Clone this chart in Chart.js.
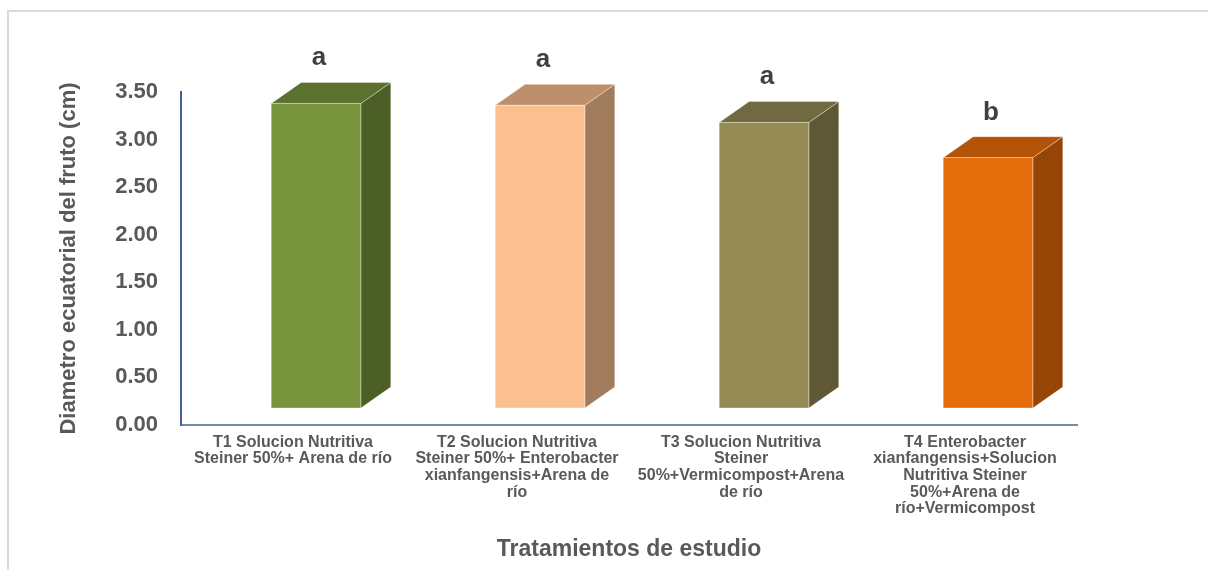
<!DOCTYPE html>
<html>
<head>
<meta charset="utf-8">
<script src="https://cdn.jsdelivr.net/npm/chart.js@4.4.1/dist/chart.umd.min.js"></script>
<style>
  html, body { margin: 0; padding: 0; background: #fff; }
  #wrap { position: relative; width: 1208px; height: 570px; }
  #frame { position: absolute; left: 7px; top: 10px; right: 0; bottom: 0;
           border-left: 2px solid #d9d9d9; border-top: 2px solid #d9d9d9; }
  canvas { position: absolute; left: 0; top: 0; }
</style>
</head>
<body>
<div id="wrap">
  <div id="frame"></div>
  <canvas id="diametro" width="1208" height="570"></canvas>
</div>
<script>
// Tratamientos (etiquetas del eje x)
const tratamientos = [
    ['T1 Solucion Nutritiva', 'Steiner 50%+ Arena de río'],
    ['T2 Solucion Nutritiva', 'Steiner 50%+ Enterobacter', 'xianfangensis+Arena de', 'río'],
    ['T3 Solucion Nutritiva', 'Steiner', '50%+Vermicompost+Arena', 'de río'],
    ['T4 Enterobacter', 'xianfangensis+Solucion', 'Nutritiva Steiner', '50%+Arena de', 'río+Vermicompost']
];
// Diametro ecuatorial (cm)
const diametro = [3.38, 3.36, 3.18, 2.81];
// Letras de significancia
const letras = ['a', 'a', 'a', 'b'];
const colorFrente = ['#77933C', '#FAC090', '#948A54', '#E46C0A'];
const colorArriba = ['#5B7130', '#BE8F6B', '#716940', '#B35308'];
const colorLado = ['#4B5F27', '#A07C5C', '#5F5836', '#964506'];

document.addEventListener("DOMContentLoaded", function () {
    const ctx = document.getElementById('diametro').getContext('2d');

    // fake 3D boxes drawn on top of the (transparent) chart.js bars
    const bar3d = {
        id: 'bar3d',
        afterDatasetsDraw(chart) {
            const c = chart.ctx;
            const meta = chart.getDatasetMeta(0);
            const dx = 30, dy = 21, shift = 23, floor = 17;
            meta.data.forEach((bar, i) => {
                const p = bar.getProps(['x', 'y', 'base', 'width'], true);
                const left = p.x - p.width / 2 + shift;
                const right = left + p.width;
                const top = p.y;
                const bottom = p.base - floor;
                c.save();
                c.strokeStyle = 'rgba(255,255,255,0.35)';
                c.lineWidth = 1;
                // side
                c.beginPath();
                c.moveTo(right, top);
                c.lineTo(right + dx, top - dy);
                c.lineTo(right + dx, bottom - dy);
                c.lineTo(right, bottom);
                c.closePath();
                c.fillStyle = colorLado[i];
                c.fill();
                c.stroke();
                // top
                c.beginPath();
                c.moveTo(left, top);
                c.lineTo(left + dx, top - dy);
                c.lineTo(right + dx, top - dy);
                c.lineTo(right, top);
                c.closePath();
                c.fillStyle = colorArriba[i];
                c.fill();
                c.stroke();
                // front
                c.fillStyle = colorFrente[i];
                c.fillRect(left, top, p.width, bottom - top);
                c.strokeRect(left, top, p.width, bottom - top);
                // letter
                c.fillStyle = '#404040';
                c.font = 'bold 26px "Liberation Sans", Arial, sans-serif';
                c.textAlign = 'center';
                c.textBaseline = 'alphabetic';
                c.fillText(letras[i], (left + right) / 2 + 3, top - 38);
                c.restore();
            });
        }
    };

    new Chart(ctx, {
        type: 'bar',
        data: {
            labels: tratamientos,
            datasets: [{
                data: diametro,
                backgroundColor: 'rgba(0,0,0,0)',
                borderWidth: 0,
                barPercentage: 0.4,
                categoryPercentage: 1
            }]
        },
        options: {
            responsive: false,
            animation: false,
            layout: { padding: { left: 0, top: 92, right: 131, bottom: 0 } },
            plugins: {
                legend: { display: false },
                tooltip: { enabled: false }
            },
            scales: {
                x: {
                    grid: { display: false, drawTicks: false },
                    border: { display: true, color: '#7489aa', width: 2 },
                    ticks: {
                        color: '#595959',
                        font: { family: '"Liberation Sans", Arial, sans-serif', size: 16, weight: 'bold', lineHeight: 1.04 },
                        padding: 9,
                        maxRotation: 0,
                        autoSkip: false
                    },
                    title: {
                        display: true,
                        text: 'Tratamientos de estudio',
                        color: '#595959',
                        font: { family: '"Liberation Sans", Arial, sans-serif', size: 23, weight: 'bold' },
                        padding: { top: 0, bottom: 7 }
                    },
                    afterFit(scale) { scale.height = 145; }
                },
                y: {
                    min: 0,
                    max: 3.5,
                    grid: { display: false, drawTicks: false },
                    border: { display: true, color: '#41618f', width: 2 },
                    ticks: {
                        stepSize: 0.5,
                        color: '#595959',
                        font: { family: '"Liberation Sans", Arial, sans-serif', size: 22, weight: 'bold' },
                        padding: 23,
                        callback: (v) => v.toFixed(2)
                    },
                    title: {
                        display: true,
                        text: 'Diametro ecuatorial del fruto (cm)',
                        color: '#595959',
                        font: { family: '"Liberation Sans", Arial, sans-serif', size: 22, weight: 'bold' },
                        padding: { top: 56, bottom: 0 }
                    },
                    afterFit(scale) { scale.width = 181; }
                }
            }
        },
        plugins: [bar3d]
    });
});
</script>
</body>
</html>
